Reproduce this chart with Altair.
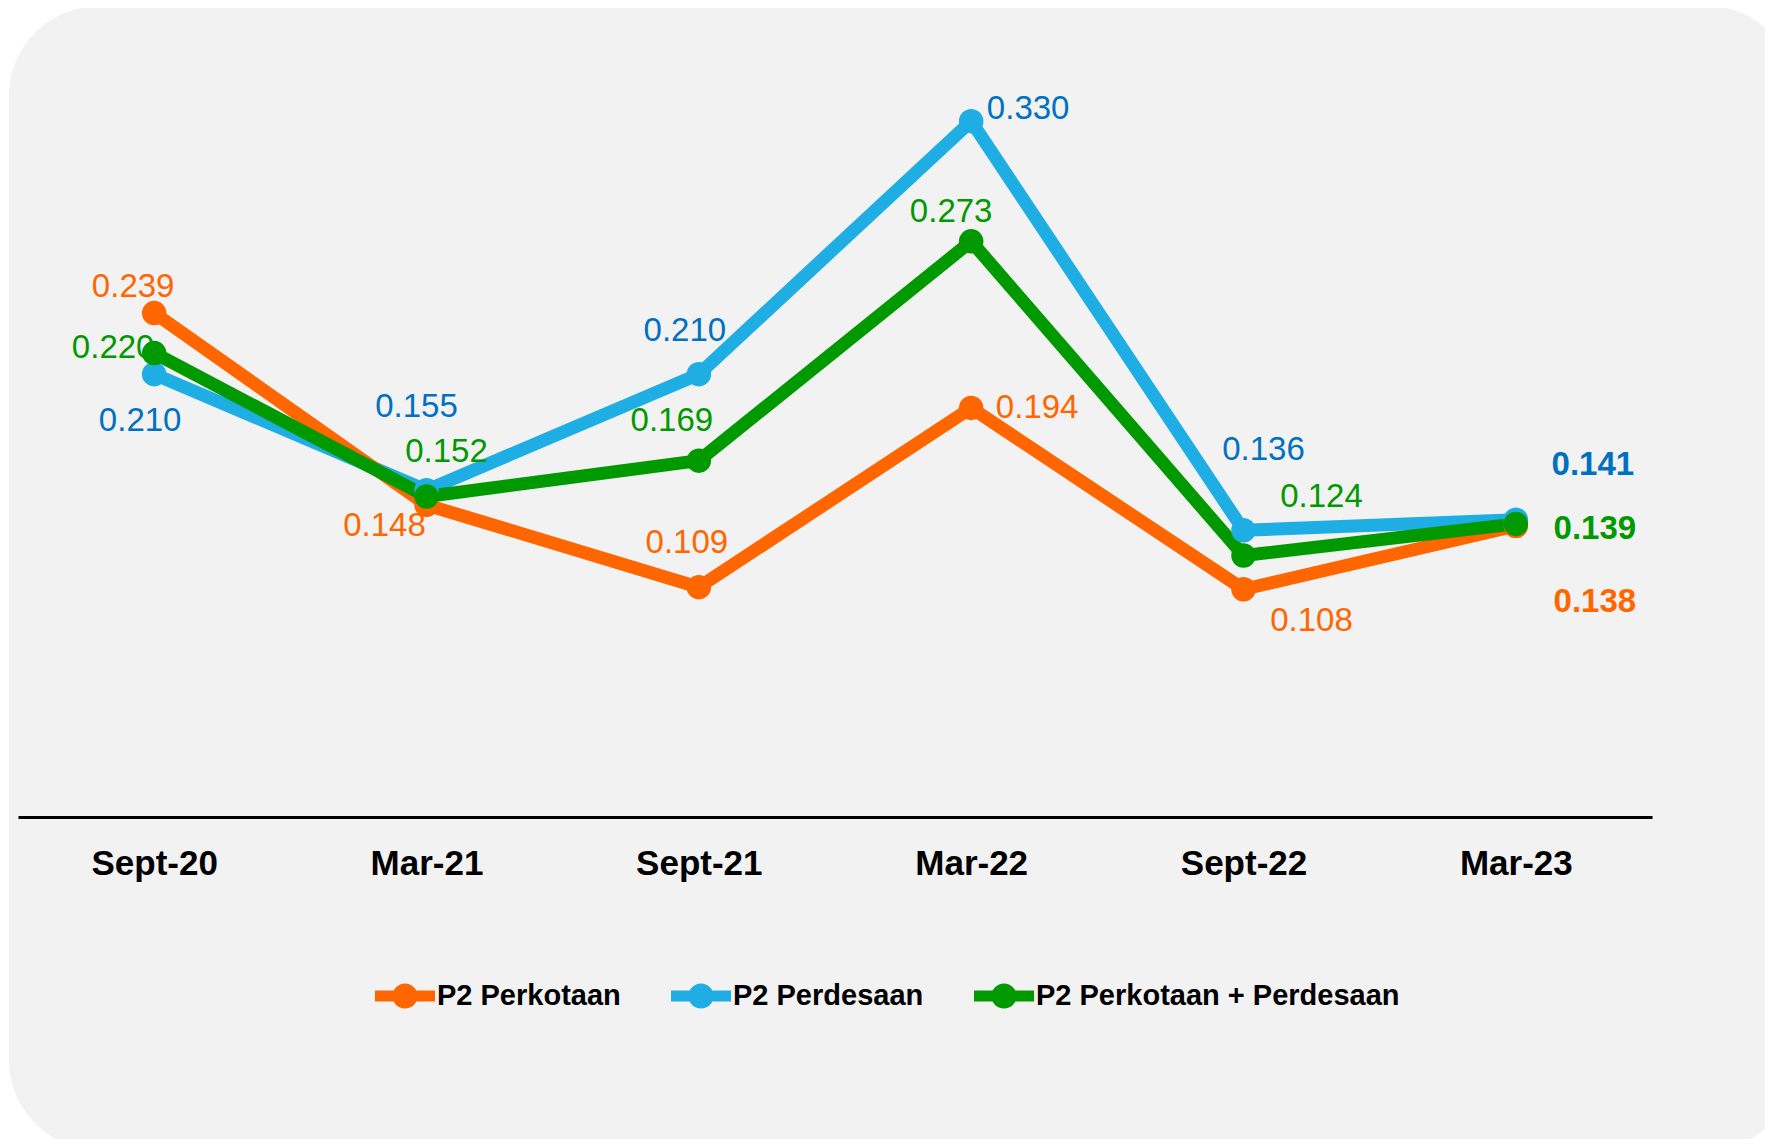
import altair as alt
import pandas as pd

# ---- data ----
periods = ["Sept-20", "Mar-21", "Sept-21", "Mar-22", "Sept-22", "Mar-23"]
series_names = ["P2 Perkotaan", "P2 Perdesaan", "P2 Perkotaan + Perdesaan"]
perkotaan = [0.239, 0.148, 0.109, 0.194, 0.108, 0.138]
perdesaan = [0.210, 0.155, 0.210, 0.330, 0.136, 0.141]
gabungan = [0.220, 0.152, 0.169, 0.273, 0.124, 0.139]

# ---- styles ----
FONT = "Liberation Sans"
line_colors = ["#FF6600", "#1FAEE3", "#009900"]
series_color = dict(zip(series_names, line_colors))
label_colors = {
    "P2 Perkotaan": "#FF6600",
    "P2 Perdesaan": "#0070C0",
    "P2 Perkotaan + Perdesaan": "#009900",
}
# label offsets (pixels) relative to each point, per series, per period
label_offsets = {
    "P2 Perkotaan": [(-21, -26), (-42, 21), (-12, -44), (66, 0), (68, 32), (79, 76)],
    "P2 Perdesaan": [(-14, 47), (-10, -83), (-14, -43), (57, -12), (20, -80), (77, -55)],
    "P2 Perkotaan + Perdesaan": [(-41, -5), (20, -44), (-27, -40), (-20, -29), (78, -59), (79, 5)],
}

rows = []
for name, vals in zip(series_names, [perkotaan, perdesaan, gabungan]):
    for p, v in zip(periods, vals):
        rows.append({"period": p, "series": name, "value": v})
df = pd.DataFrame(rows)

base = alt.Chart(df)

x_enc = alt.X(
    "period:N",
    sort=periods,
    scale=alt.Scale(type="point", padding=0.5),
    axis=alt.Axis(
        title=None,
        labelAngle=0,
        ticks=False,
        tickSize=0,
        grid=False,
        domainColor="black",
        domainWidth=3,
        labelPadding=46,
        labelBaseline="middle",
        labelFont=FONT,
        labelFontSize=35,
        labelFontWeight="bold",
        labelColor="black",
        zindex=1,
    ),
)
y_enc = alt.Y("value:Q", scale=alt.Scale(domain=[0, 0.35], nice=False, zero=True), axis=None)

legend_path = (
    "M-1,-0.18H1V0.18H-1Z "
    "M0.42,0A0.42,0.42 0 1,1 -0.42,0A0.42,0.42 0 1,1 0.42,0Z"
)

color_scale = alt.Scale(domain=series_names, range=line_colors)

panel = (
    alt.Chart(pd.DataFrame({"k": [0]}))
    .mark_rect(color="#F2F2F2", cornerRadius=90)
    .encode(x=alt.value(-9), x2=alt.value(1779), y=alt.value(-73), y2=alt.value(1071))
)

line_order = ["P2 Perdesaan", "P2 Perkotaan", "P2 Perkotaan + Perdesaan"]
lines = [
    base.transform_filter(alt.datum.series == name)
    .mark_line(strokeWidth=13, strokeJoin="round", strokeCap="round")
    .encode(x=x_enc, y=y_enc, color=alt.value(series_color[name]))
    for name in line_order
]

circles = base.mark_circle(size=600, opacity=1).encode(
    x=x_enc,
    y=y_enc,
    color=alt.Color(
        "series:N",
        scale=color_scale,
        sort=series_names,
        legend=alt.Legend(
            orient="none",
            legendX=357,
            legendY=887,
            direction="horizontal",
            title=None,
            symbolType=legend_path,
            symbolSize=3600,
            symbolStrokeWidth=0,
            symbolOpacity=1,
            labelFont=FONT,
            labelFontSize=29,
            labelFontWeight="bold",
            labelColor="black",
            labelOffset=2,
            labelLimit=0,
            columnPadding=50,
            padding=0,
            zindex=1,
        ),
    ),
)

texts = []
for name in series_names:
    for i, p in enumerate(periods):
        dx, dy = label_offsets[name][i]
        texts.append(
            base.transform_filter((alt.datum.series == name) & (alt.datum.period == p))
            .mark_text(
                dx=dx,
                dy=dy,
                font=FONT,
                fontSize=33,
                fontWeight="bold" if p == "Mar-23" else "normal",
                color=label_colors[name],
                align="center",
                baseline="middle",
            )
            .encode(x=x_enc, y=y_enc, text=alt.Text("value:Q", format=".3f"))
        )

chart = (
    alt.layer(panel, *lines, circles, *texts)
    .properties(
        width=1634,
        height=738,
        autosize=alt.AutoSizeParams(type="none"),
        padding={"left": 10, "top": 71, "right": 113, "bottom": 322},
        background="white",
    )
    .configure_view(stroke=None)
)

chart.save("out.html", embed_options={"renderer": "svg", "actions": False})
